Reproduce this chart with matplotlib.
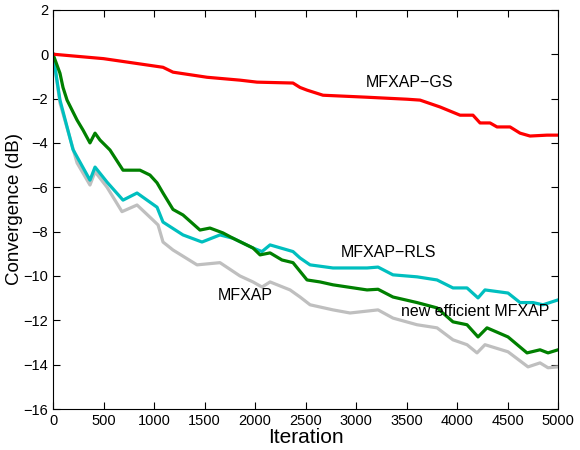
import matplotlib
matplotlib.use("Agg")
import matplotlib.pyplot as plt

plt.rcParams['font.family'] = ['Liberation Sans', 'DejaVu Sans']

# ---- data ----
gs_x = [0, 500, 1089, 1188, 1525, 1851, 2020, 2376, 2446, 2515, 2673, 3109,
        3505, 3634, 3832, 4030, 4158, 4228, 4327, 4396, 4525, 4624, 4723, 4891, 5000]
gs_y = [0, -0.2, -0.59, -0.81, -1.04, -1.17, -1.26, -1.3, -1.5, -1.62, -1.85, -1.94,
        -2.03, -2.07, -2.38, -2.75, -2.75, -3.1, -3.1, -3.28, -3.28, -3.56, -3.69, -3.65, -3.65]

rls_x = [0, 69, 198, 366, 416, 535, 693, 832, 1030, 1089, 1287, 1475, 1653, 1782,
         1980, 2069, 2149, 2376, 2446, 2545, 2772, 3109, 3218, 3366, 3604, 3802,
         3960, 4099, 4208, 4277, 4505, 4624, 4752, 4851, 5000]
rls_y = [0, -2.07, -4.3, -5.68, -5.09, -5.77, -6.58, -6.26, -6.9, -7.57, -8.15, -8.47,
         -8.15, -8.3, -8.74, -8.9, -8.6, -8.9, -9.19, -9.5, -9.64, -9.64, -9.6, -9.95,
         -10.04, -10.18, -10.54, -10.54, -10.99, -10.63, -10.77, -11.2, -11.2, -11.3, -11.08]

new_x = [0, 69, 99, 139, 238, 297, 366, 416, 465, 564, 693, 861, 960, 1030, 1089,
         1188, 1287, 1455, 1554, 1683, 1782, 1980, 2050, 2149, 2267, 2376, 2515,
         2644, 2772, 3109, 3218, 3366, 3604, 3802, 3960, 4099, 4208, 4297, 4505,
         4693, 4822, 4901, 5000]
new_y = [0, -0.86, -1.5, -2.07, -2.97, -3.42, -4.0, -3.56, -3.87, -4.32, -5.23, -5.23,
         -5.45, -5.8, -6.26, -7.0, -7.25, -7.93, -7.84, -8.06, -8.3, -8.74, -9.05, -8.96,
         -9.28, -9.4, -10.18, -10.27, -10.4, -10.63, -10.6, -10.95, -11.2, -11.44, -12.07,
         -12.2, -12.75, -12.34, -12.75, -13.47, -13.33, -13.47, -13.33]

ap_x = [0, 69, 238, 366, 416, 535, 683, 832, 990, 1040, 1089, 1188, 1426, 1653,
        1851, 1980, 2069, 2149, 2347, 2446, 2545, 2772, 2941, 3218, 3366, 3604,
        3802, 3960, 4099, 4198, 4277, 4505, 4703, 4822, 4901, 5000]
ap_y = [0, -2.2, -4.9, -5.9, -5.3, -6.0, -7.1, -6.8, -7.48, -7.7, -8.47, -8.83, -9.5,
        -9.4, -10.0, -10.27, -10.5, -10.27, -10.63, -10.95, -11.3, -11.53, -11.67,
        -11.53, -11.9, -12.2, -12.34, -12.88, -13.1, -13.47, -13.1, -13.42, -14.1,
        -13.92, -14.14, -14.1]

fig = plt.figure(figsize=(5.8, 4.5), dpi=100)
ax = fig.add_axes([0.0914, 0.0911, 0.8707, 0.887])

ax.plot(ap_x, ap_y, color=(0.75, 0.75, 0.75), lw=2.3)
ax.plot(rls_x, rls_y, color=(0, 0.75, 0.75), lw=2.3)
ax.plot(new_x, new_y, color=(0, 0.5, 0), lw=2.3)
ax.plot(gs_x, gs_y, color=(1, 0, 0), lw=2.3)

ax.text(3535, -1.26, "MFXAP\u2212GS", ha='center', va='center', fontsize=11.5)
ax.text(3317, -8.96, "MFXAP\u2212RLS", ha='center', va='center', fontsize=11.5)
ax.text(1900, -10.9, "MFXAP", ha='center', va='center', fontsize=11.5)
ax.text(4178, -11.6, "new efficient MFXAP", ha='center', va='center', fontsize=11.5)

ax.set_xlim(0, 5000)
ax.set_ylim(-16, 2)
ax.set_xticks(range(0, 5001, 500))
ax.set_yticks(range(-16, 3, 2))
ax.tick_params(direction='in', top=True, right=True, labelsize=10.5, length=5)
ax.set_xlabel("Iteration", fontsize=15, labelpad=0)
ax.set_ylabel("Convergence (dB)", fontsize=13.5, labelpad=0)

fig.savefig("out.png", dpi=100)
